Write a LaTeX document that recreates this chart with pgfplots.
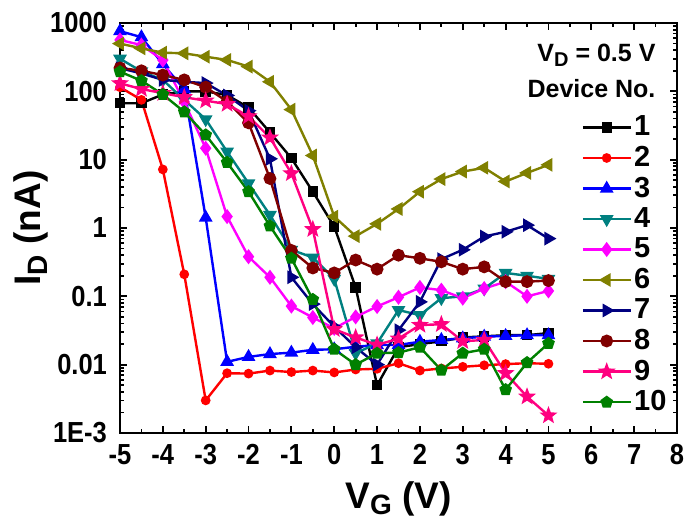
\documentclass[border=0pt]{standalone}
\usepackage{fontspec}
\setmainfont{Liberation Sans}
\newfontfamily\tickfam[FakeStretch=0.88]{Liberation Sans}
\usepackage{pgfplots}
\pgfplotsset{compat=1.18}
\usetikzlibrary{plotmarks}
\definecolor{c1}{RGB}{0,0,0}
\definecolor{c2}{RGB}{255,0,0}
\definecolor{c3}{RGB}{0,0,255}
\definecolor{c4}{RGB}{0,128,128}
\definecolor{c5}{RGB}{255,0,255}
\definecolor{c6}{RGB}{128,128,0}
\definecolor{c7}{RGB}{0,0,128}
\definecolor{c8}{RGB}{128,0,0}
\definecolor{c9}{RGB}{255,0,128}
\definecolor{c10}{RGB}{0,128,0}
\pgfdeclareplotmark{fstar}{%
  \pgfpathmoveto{\pgfpointpolar{90}{\pgfplotmarksize}}%
  \pgfpathlineto{\pgfpointpolar{126}{0.42\pgfplotmarksize}}%
  \pgfpathlineto{\pgfpointpolar{162}{\pgfplotmarksize}}%
  \pgfpathlineto{\pgfpointpolar{198}{0.42\pgfplotmarksize}}%
  \pgfpathlineto{\pgfpointpolar{234}{\pgfplotmarksize}}%
  \pgfpathlineto{\pgfpointpolar{270}{0.42\pgfplotmarksize}}%
  \pgfpathlineto{\pgfpointpolar{306}{\pgfplotmarksize}}%
  \pgfpathlineto{\pgfpointpolar{342}{0.42\pgfplotmarksize}}%
  \pgfpathlineto{\pgfpointpolar{18}{\pgfplotmarksize}}%
  \pgfpathlineto{\pgfpointpolar{54}{0.42\pgfplotmarksize}}%
  \pgfpathclose\pgfusepathqfillstroke}
\newcommand{\tfont}{\tickfam\bfseries\fontsize{14.5}{15}\selectfont}
\newcommand{\legfont}{\bfseries\fontsize{14.5}{15}\selectfont}
\newcommand{\lfont}{\bfseries\fontsize{18.5}{19}\selectfont}
\begin{document}
\begin{tikzpicture}
\begin{axis}[name=ax,
  scale only axis, width=278.5pt, height=205pt,
  ymode=log, xmin=-5, xmax=8, ymin=1e-3, ymax=1e3,
  xtick={-5,-4,-3,-2,-1,0,1,2,3,4,5,6,7,8},
  xticklabels={-5,-4,-3,-2,-1,0,1,2,3,4,5,6,7,8},
  minor x tick num=1,
  ytick={1e-3,1e-2,0.1,1,10,100,1000},
  yticklabels={1E-3,0.01,0.1,1,10,100,1000},
  tick align=inside, major tick length=3.5pt, minor tick length=2pt,
  every tick/.style={black, line width=0.9pt},
  axis line style={line width=1.2pt},
  tick label style={font=\tfont},
  xticklabel style={yshift=-2pt},
  yticklabel style={xshift=-3pt},
  xlabel={V\raisebox{-0.35ex}{\fontsize{14}{14}\selectfont G} (V)},
  ylabel={I\raisebox{-0.35ex}{\fontsize{14}{14}\selectfont D} (nA)},
  every axis x label/.style={at={(axis description cs:0.5,-0.183)}, anchor=base, font=\lfont},
  every axis y label/.style={at={(axis description cs:-0.16,0.5)}, rotate=90, anchor=center, font=\lfont},
  legend image code/.code={\draw[mark repeat=2,mark phase=2,#1] plot coordinates {(0cm,0cm) (0.42cm,0cm) (0.84cm,0cm)};},
  legend style={at={(rel axis cs:0.828,0.78)}, anchor=north west, draw=none, fill=none,
    font=\legfont, row sep=1.3pt, inner sep=0pt, nodes={inner sep=1.2pt}},
  legend cell align=left,
  every axis plot/.append style={line width=1.2pt},
]
\addplot[c1, mark=square*, mark size=2pt] coordinates {(-5,67) (-4.5,67) (-4,90) (-3.5,100) (-3,100) (-2.5,88) (-2,58) (-1.5,25) (-1,10.5) (-0.5,3.4) (0,1.05) (0.5,0.135) (1,0.005) (1.5,0.018) (2,0.02) (2.5,0.022) (3,0.025) (3.5,0.026) (4,0.027) (4.5,0.027) (5,0.029)};
\addlegendentry{1}
\addplot[c2, mark=*, mark size=1.8pt] coordinates {(-5,115) (-4.5,75) (-4,7.2) (-3.5,0.21) (-3,0.003) (-2.5,0.0075) (-2,0.0074) (-1.5,0.0082) (-1,0.0078) (-0.5,0.0082) (0,0.0077) (0.5,0.0085) (1,0.0087) (1.5,0.0105) (2,0.0082) (2.5,0.0088) (3,0.0093) (3.5,0.0098) (4,0.0102) (4.5,0.0105) (5,0.0103)};
\addlegendentry{2}
\addplot[c3, mark=triangle*, mark size=2.8pt] coordinates {(-5,760) (-4.5,620) (-4,250) (-3.5,107) (-3,1.42) (-2.5,0.011) (-2,0.013) (-1.5,0.0143) (-1,0.015) (-0.5,0.0165) (0,0.0168) (0.5,0.0183) (1,0.0194) (1.5,0.0194) (2,0.0217) (2.5,0.023) (3,0.0243) (3.5,0.0257) (4,0.0263) (4.5,0.027) (5,0.027)};
\addlegendentry{3}
\addplot[c4, mark=triangle*, mark size=2.8pt, mark options={rotate=180}] coordinates {(-5,300) (-4.5,196) (-4,147) (-3.5,75) (-3,39) (-2.5,13.1) (-2,4.5) (-1.5,1.55) (-1,0.48) (-0.5,0.37) (0,0.18) (0.5,0.0147) (1,0.0205) (1.5,0.063) (2,0.053) (2.5,0.094) (3,0.1) (3.5,0.13) (4,0.22) (4.5,0.2) (5,0.18)};
\addlegendentry{4}
\addplot[c5, mark=diamond*, mark size=2.8pt] coordinates {(-5,565) (-4.5,475) (-4,287) (-3.5,70) (-3,14.7) (-2.5,1.47) (-2,0.38) (-1.5,0.19) (-1,0.072) (-0.5,0.049) (0,0.034) (0.5,0.05) (1,0.071) (1.5,0.097) (2,0.135) (2.5,0.123) (3,0.094) (3.5,0.13) (4,0.164) (4.5,0.1) (5,0.12)};
\addlegendentry{5}
\addplot[c6, mark=triangle*, mark size=2.8pt, mark options={rotate=90}] coordinates {(-5,500) (-4.5,425) (-4,368) (-3.5,360) (-3,321) (-2.5,288) (-2,230) (-1.5,138) (-1,54) (-0.5,11.5) (0,1.47) (0.5,0.76) (1,1.15) (1.5,1.9) (2,3.4) (2.5,5.2) (3,6.7) (3.5,7.6) (4,4.8) (4.5,6.4) (5,8.4)};
\addlegendentry{6}
\addplot[c7, mark=triangle*, mark size=2.8pt, mark options={rotate=-90}] coordinates {(-5,218) (-4.5,183) (-4,147) (-3.5,138) (-3,132) (-2.5,87) (-2,52) (-1.5,10.3) (-1,0.19) (-0.5,0.077) (0,0.036) (0.5,0.018) (1,0.01) (1.5,0.032) (2,0.083) (2.5,0.35) (3,0.48) (3.5,0.75) (4,0.88) (4.5,1.1) (5,0.7)};
\addlegendentry{7}
\addplot[c8, mark=*, mark size=2.6pt] coordinates {(-5,220) (-4.5,200) (-4,173) (-3.5,147) (-3,115) (-2.5,71) (-2,34.6) (-1.5,5.3) (-1,0.47) (-0.5,0.26) (0,0.22) (0.5,0.34) (1,0.25) (1.5,0.4) (2,0.36) (2.5,0.32) (3,0.25) (3.5,0.27) (4,0.164) (4.5,0.164) (5,0.17)};
\addlegendentry{8}
\addplot[c9, mark=fstar, mark size=3pt] coordinates {(-5,131) (-4.5,108) (-4,94) (-3.5,82) (-3,73) (-2.5,65) (-2,43) (-1.5,21) (-1,6.3) (-0.5,0.96) (0,0.033) (0.5,0.025) (1,0.0195) (1.5,0.024) (2,0.038) (2.5,0.039) (3,0.022) (3.5,0.023) (4,0.0075) (4.5,0.0034) (5,0.0018)};
\addlegendentry{9}
\addplot[c10, mark=pentagon*, mark size=2.6pt] coordinates {(-5,194) (-4.5,143) (-4,90) (-3.5,50) (-3,23) (-2.5,9.1) (-2,3.4) (-1.5,1.07) (-1,0.36) (-0.5,0.09) (0,0.0168) (0.5,0.01) (1,0.0147) (1.5,0.015) (2,0.018) (2.5,0.0083) (3,0.0147) (3.5,0.0168) (4,0.0043) (4.5,0.0107) (5,0.0205)};
\addlegendentry{10}
\node[anchor=east, font=\bfseries\fontsize{12.5}{13}\selectfont, inner sep=0pt] at (rel axis cs:0.962,0.922) {V\raisebox{-0.35ex}{\fontsize{10}{10}\selectfont D} = 0.5 V};
\node[anchor=east, font=\bfseries\fontsize{12.5}{13}\selectfont, inner sep=0pt] at (rel axis cs:0.962,0.841) {Device No.};
\end{axis}
\pgfresetboundingbox
\path ([xshift=-60pt,yshift=-43.5pt]ax.south west) rectangle ([xshift=4.5pt,yshift=11.5pt]ax.north east);
\end{tikzpicture}
\end{document}
